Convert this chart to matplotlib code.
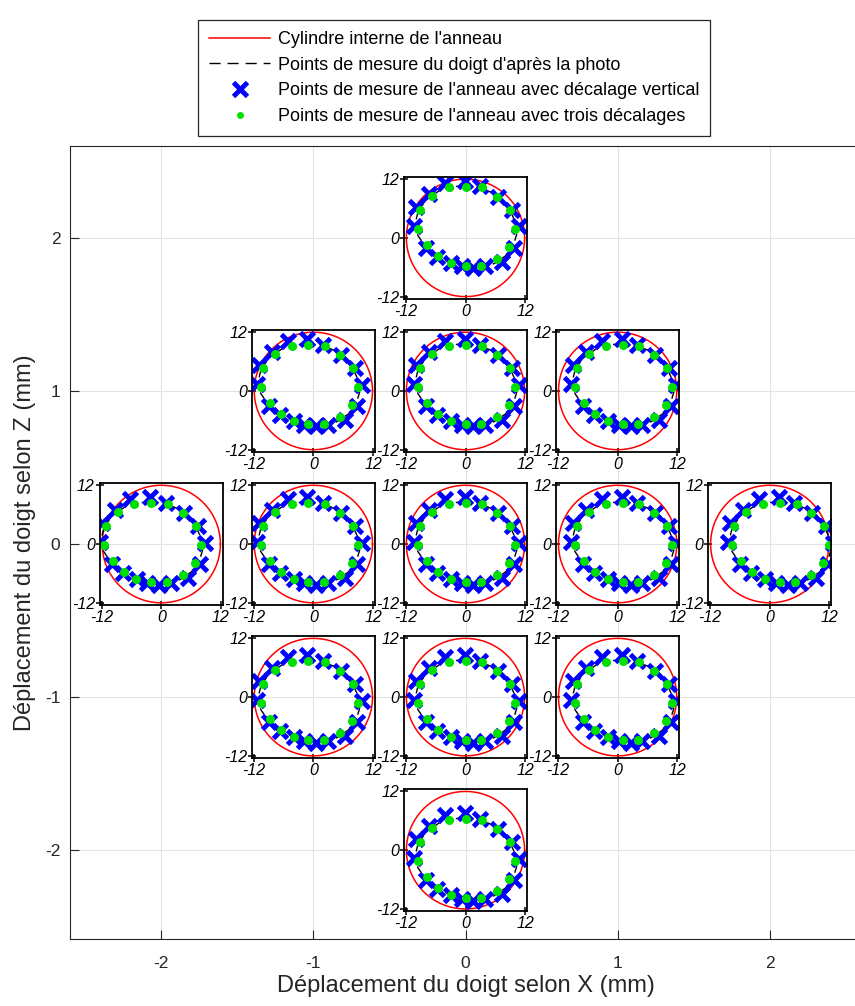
import numpy as np
import matplotlib.pyplot as plt
from matplotlib.lines import Line2D

plt.rcParams['font.family'] = ['Liberation Sans', 'DejaVu Sans']
plt.rcParams['axes.unicode_minus'] = False

# déplacements du doigt (mm) : un petit graphe par position
dep_x = [0, -1, 0, 1, -2, -1, 0, 1, 2, -1, 0, 1, 0]
dep_z = [2, 1, 1, 1, 0, 0, 0, 0, 0, -1, -1, -1, -2]

# cylindre interne de l'anneau
r_anneau = 11.9

# contour du doigt d'après la photo (position centrée)
photo_x = [0.0, 2.5, 5.0, 7.2, 9.0, 10.1, 10.3, 9.6, 8.0, 5.8, 3.2, 0.0,
           -3.0, -5.8, -8.0, -9.6, -10.1, -9.5, -7.8, -5.2, -2.5, 0.0]
photo_z = [8.5, 8.3, 7.3, 5.6, 3.5, 1.0, -1.3, -3.6, -5.7, -7.2, -7.9, -8.0,
           -7.5, -6.0, -3.9, -1.5, 1.0, 3.5, 5.8, 7.6, 8.4, 8.5]

# points de mesure avec décalage vertical
vert_x = [-4.2, -0.2, 2.9, 6.6, 9.3, 10.8, 9.7, 7.3, 4.0, 1.6, -0.8, -2.9,
          -5.7, -8.0, -10.3, -10.0, -7.3]
vert_z = [9.1, 9.6, 8.4, 6.3, 3.7, 0.3, -4.0, -6.9, -7.8, -8.2, -7.8, -7.1,
          -5.9, -4.0, 0.5, 4.2, 6.9]

# points de mesure avec trois décalages
trois_x = [0.0, 3.4, 6.3, 9.0, 10.0, 8.8, 6.3, 3.1, 0.0, -3.0, -5.5, -7.8,
           -9.5, -9.1, -6.7, -3.4]
trois_z = [8.3, 8.2, 6.2, 3.6, -0.2, -3.8, -6.3, -7.6, -7.7, -7.1, -5.6,
           -3.4, -0.2, 3.6, 6.5, 8.2]

fig = plt.figure(figsize=(8.55, 10.06), dpi=100)
ax = fig.add_axes([70 / 855, 67 / 1006, 791 / 855, 793 / 1006])
ax.set_xlim(-2.6, 2.6)
ax.set_ylim(-2.58, 2.6)
ax.set_xticks([-2, -1, 0, 1, 2])
ax.set_yticks([-2, -1, 0, 1, 2])
ax.grid(True, color='#e3e3e3', linewidth=0.8)
ax.set_axisbelow(True)
ax.tick_params(direction='in', length=6.5, width=0.8, labelsize=12.5,
               colors='#262626')
ax.tick_params(axis='x', pad=12)
ax.tick_params(axis='y', pad=7)
for s in ax.spines.values():
    s.set_color('#262626')
    s.set_linewidth(0.8)
ax.set_xlabel('Déplacement du doigt selon X (mm)', fontsize=17,
              color='#262626', labelpad=3)
ax.set_ylabel('Déplacement du doigt selon Z (mm)', fontsize=17,
              color='#262626', labelpad=6)

t = np.linspace(0, 2 * np.pi, 200)
for dx, dz in zip(dep_x, dep_z):
    ins = ax.inset_axes([dx - 0.405, dz - 0.40, 0.81, 0.80],
                        transform=ax.transData)
    ins.set_facecolor('none')
    ins.plot(r_anneau * np.cos(t), r_anneau * np.sin(t), color='red', lw=1.1)
    ins.plot(np.array(photo_x) + dx, np.array(photo_z) + dz, color='black',
             ls=(0, (5, 3)), lw=1.0)
    ins.plot(np.array(vert_x) + dx, np.array(vert_z) + dz, 'x', color='blue',
             ms=10, mew=3.5)
    ins.plot(np.array(trois_x) + dx, np.array(trois_z) + dz, 'o',
             color='#00e000', ms=6.5, mec='none')
    ins.set_xlim(-12.4, 12.4)
    ins.set_ylim(-12.4, 12.4)
    ins.set_xticks([-12, 0, 12])
    ins.set_yticks([-12, 0, 12])
    ins.set_xticklabels(['-12', '0', '12'], fontstyle='italic')
    ins.set_yticklabels(['-12', '0', '12'], fontstyle='italic')
    ins.tick_params(direction='inout', length=6, width=1.1, labelsize=11.5,
                    pad=0.5)
    for s in ins.spines.values():
        s.set_linewidth(1.3)

handles = [
    Line2D([], [], color='red', lw=1.1),
    Line2D([], [], color='black', ls=(0, (8, 5)), lw=1.0),
    Line2D([], [], color='blue', marker='x', ls='none', ms=10, mew=3.5),
    Line2D([], [], color='#00e000', marker='o', ls='none', ms=5, mec='none'),
]
labels = ["Cylindre interne de l'anneau",
          "Points de mesure du doigt d'après la photo",
          "Points de mesure de l'anneau avec décalage vertical",
          "Points de mesure de l'anneau avec trois décalages"]
leg = fig.legend(handles, labels, loc='upper center',
                 bbox_to_anchor=(0.531, 0.989), fontsize=13,
                 handlelength=3.4, handletextpad=0.4, labelspacing=0.48,
                 borderpad=0.6, fancybox=False, framealpha=1)
leg.get_frame().set_edgecolor('#262626')
leg.get_frame().set_linewidth(0.9)

fig.savefig('out.png', dpi=100)
